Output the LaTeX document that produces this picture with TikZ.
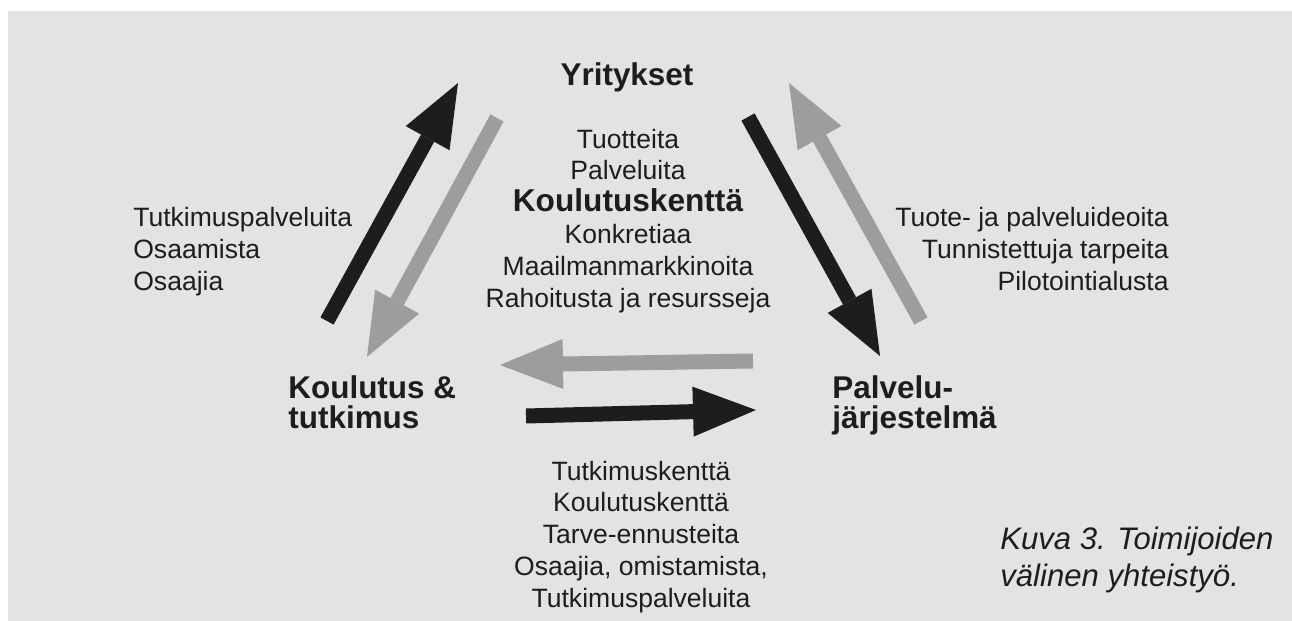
\documentclass[tikz,border=0pt]{standalone}
\usepackage{fontspec}
\setmainfont{Liberation Sans}
\usepackage{tikz}
\usetikzlibrary{arrows.meta}
\definecolor{tausta}{HTML}{E3E3E3}
\definecolor{musta}{HTML}{1D1D1B}
\definecolor{harmaa}{HTML}{9D9D9C}

\begin{document}
\begin{tikzpicture}[
    teksti/.style={text=musta,inner sep=0pt,font=\fontsize{15.1}{18.1}\selectfont},
    toimija/.style={text=musta,inner sep=0pt,align=left,font=\bfseries\fontsize{17.9}{17.4}\selectfont},
    nuoli/.style={line width=0.3cm,-{Triangle[length=1.26cm,width=1cm,line width=0pt]}},
    musta nuoli/.style={nuoli,draw=musta,fill=musta},
    harmaa nuoli/.style={nuoli,draw=harmaa,fill=harmaa}]
                      \useasboundingbox (0,0) rectangle (25.84,12.42);
                      \fill[tausta] (0.16,0) rectangle (25.84,12.20);
                      \node[toimija,anchor=base,font=\bfseries\fontsize{17.9}{20}\selectfont](yritykset)at(12.54,10.70){Yritykset};
                      \node[toimija,anchor=north west](koulutus)at(5.76,4.92){Koulutus \&\\tutkimus};
                      \node[toimija,anchor=north west](palvelu)at(16.64,4.92){Palvelu-\\järjestelmä};
                      \node[teksti,align=center,anchor=north](tuotteet)at(12.56,9.85){Tuotteita\\Palveluita\\{\bfseries\fontsize{18}{18.1}\selectfont Koulutuskenttä}\\Konkretiaa\\Maailmanmarkkinoita\\Rahoitusta ja resursseja};
                      \node[teksti,align=left,anchor=north west](osaaminen)at(2.66,8.28){Tutkimuspalveluita\\Osaamista\\Osaajia};
                      \node[teksti,align=right,anchor=north east](ideat)at(23.38,8.28){Tuote- ja palveluideoita\\Tunnistettuja tarpeita\\Pilotointialusta};
                      \node[teksti,align=center,anchor=north](kentat)at(12.82,3.21){Tutkimuskenttä\\Koulutuskenttä\\Tarve-ennusteita\\Osaajia, omistamista,\\Tutkimuspalveluita};
                      \node[teksti,align=left,anchor=north west,font=\itshape\fontsize{17.7}{21}\selectfont](kuva)at(20.00,1.88){Kuva 3. Toimijoiden\\välinen yhteistyö.};
                      \coordinate (ky1) at (6.54,6.00);
                      \coordinate (ky2) at (9.16,10.76);
                      \coordinate (yk1) at (9.94,10.06);
                      \coordinate (yk2) at (7.34,5.28);
                      \coordinate (yp1) at (14.96,10.08);
                      \coordinate (yp2) at (17.60,5.30);
                      \coordinate (py1) at (18.42,6.00);
                      \coordinate (py2) at (15.78,10.76);
                      \coordinate (pk1) at (15.06,5.20);
                      \coordinate (pk2) at (10.00,5.12);
                      \coordinate (kp1) at (10.52,4.10);
                      \coordinate (kp2) at (15.12,4.22);
                      \draw[musta nuoli] (ky1) -- (ky2);
                      \draw[harmaa nuoli] (yk1) -- (yk2);
                      \draw[musta nuoli] (yp1) -- (yp2);
                      \draw[harmaa nuoli] (py1) -- (py2);
                      \draw[harmaa nuoli] (pk1) -- (pk2);
                      \draw[musta nuoli] (kp1) -- (kp2);
                  \end{tikzpicture}
\end{document}
